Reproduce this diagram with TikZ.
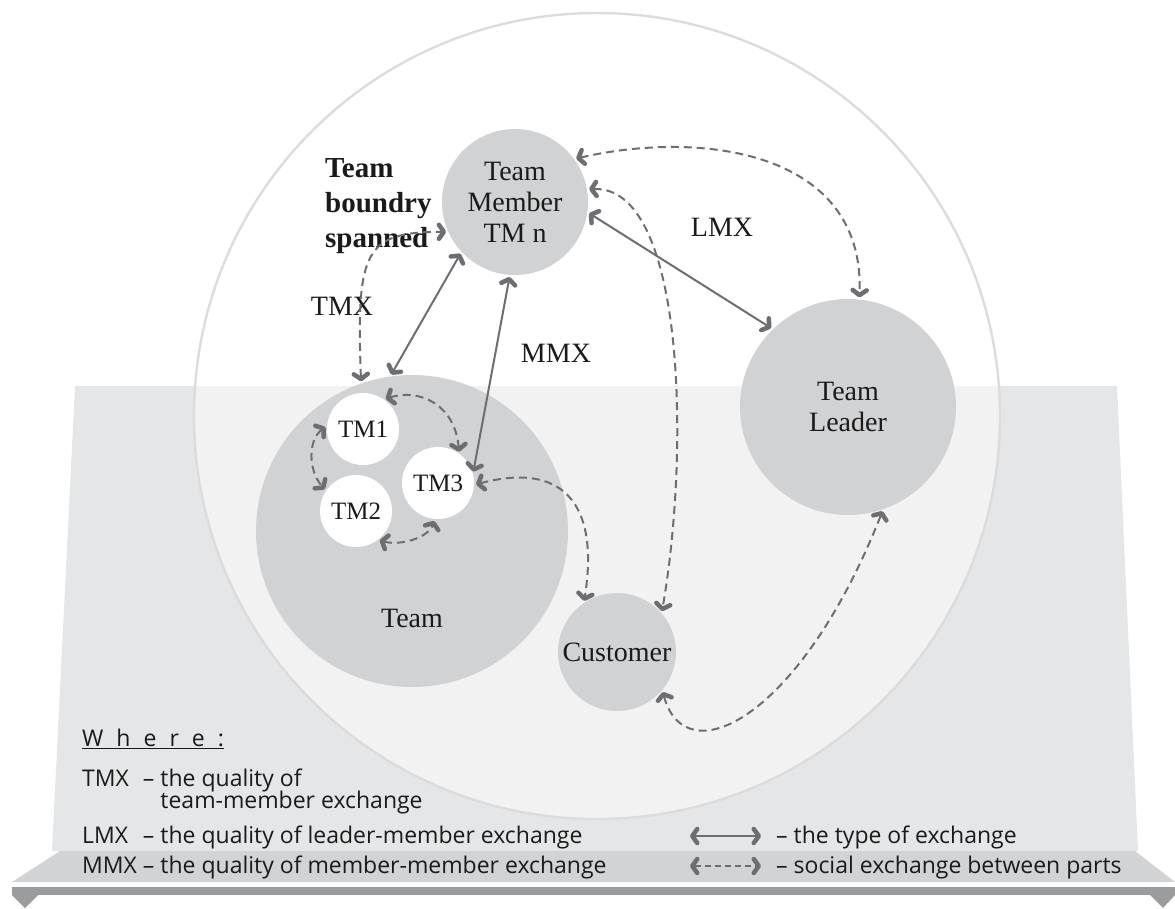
\documentclass[tikz,border=0pt]{standalone}
\usepackage{fontspec}
\setmainfont{Liberation Serif}
\newfontfamily\legfont{Open Sans}
\usetikzlibrary{arrows.meta}
\definecolor{ndgray}{HTML}{D1D2D4}
\definecolor{platgray}{HTML}{E5E6E7}
\definecolor{bandgray}{HTML}{D2D3D5}
\definecolor{bargray}{HTML}{9B9C9E}
\definecolor{arrgray}{HTML}{6D6E71}
\definecolor{ringgray}{HTML}{DCDCDD}
\definecolor{txtblack}{HTML}{1A1A1A}
\newcommand\nodefs{\fontsize{28}{31}\selectfont}
\newcommand\tmfs{\fontsize{25}{28}\selectfont}
\newcommand\lblfs{\fontsize{28}{30}\selectfont}
\newcommand\legfs{\legfont\fontsize{23}{26}\selectfont}
\tikzset{
  nd/.style={circle, fill=ndgray, inner sep=0pt, align=center, text=txtblack, font=\nodefs},
  wn/.style={circle, fill=white, inner sep=0pt, text=txtblack, font=\tmfs},
  lbl/.style={inner sep=0pt, text=txtblack, font=\lblfs},
  bld/.style={inner sep=0pt, text=txtblack, font=\bfseries\fontsize{29}{35}\selectfont},
  leg/.style={inner sep=0pt, text=txtblack, font=\legfs},
  conn/.style={draw=arrgray, line width=2pt,
    arrows={Straight Barb[length=5pt,width=14pt,line width=4.5pt,round]-Straight Barb[length=5pt,width=14pt,line width=4.5pt,round]},
    shorten <=2pt, shorten >=2pt},
  dconn/.style={conn, dash pattern=on 8pt off 5pt},
}
\begin{document}
\begin{tikzpicture}[x=1pt,y=-1pt]
\useasboundingbox (0,0) rectangle (1175,908);
% platform
\fill[platgray] (75,386) -- (1117,386) -- (1138,851) -- (52,851) -- cycle;
\fill[bandgray] (60,851) -- (1135,851) -- (1175,882) -- (12,882) -- cycle;
\fill[bargray] (12,887) rectangle (1175,895);
\fill[bargray] (12,895) -- (38,895) -- (25,908) -- cycle;
\fill[bargray] (1150,895) -- (1175,895) -- (1163,908) -- cycle;
% big ring
\node[circle, minimum size=806pt, inner sep=0pt, fill=white, fill opacity=0.5,
      draw=ringgray, draw opacity=1, line width=2.4pt] (ring) at (597,416) {};
% nodes
\node[nd, minimum size=146pt] (tmn) at (515,202) {Team\\Member\\TM n};
\node[nd, minimum size=312pt] (team) at (412,531) {};
\node[lbl, font=\nodefs] (teamtxt) at (412,618) {Team};
\node[wn, minimum size=72pt] (tm1) at (363,429) {TM1};
\node[wn, minimum size=72pt] (tm2) at (356,511) {TM2};
\node[wn, minimum size=72pt] (tm3) at (438,483) {TM3};
\node[nd, minimum size=216pt] (lead) at (848,407) {Team\\Leader};
\node[nd, minimum size=118pt, font=\fontsize{28}{30}\selectfont] (cust) at (617,652) {Customer};
% labels
\node[lbl, anchor=base] (tmx) at (342,315) {TMX};
\node[lbl, anchor=base] (lmx) at (722,236) {LMX};
\node[lbl, anchor=base] (mmx) at (556,362) {MMX};
\node[bld, anchor=base west] (tbs1) at (325,177) {Team};
\node[bld, anchor=base west] (tbs2) at (325,212) {boundry};
\node[bld, anchor=base west] (tbs3) at (325,247) {spanned};
% solid connectors
\draw[conn] (team.98) -- (tmn.223);
\draw[conn] (tm3.15) -- (tmn.266);
\draw[conn] (tmn.352) -- (lead.134);
% dashed connectors
\draw[dconn] (tmn.36) .. controls (700,130) and (865,150) .. (lead.84);
\draw[dconn] (tmn.10) .. controls (685,185) and (690,450) .. (cust.41);
\draw[dconn] (team.109) .. controls (356,250) and (365,232) .. (tmn.204);
\draw[dconn] (tm1.55) .. controls (420,388) and (455,405) .. (tm3.54);
\draw[dconn] (tm1.175) .. controls (308,440) and (308,470) .. (tm2.146);
\draw[dconn] (tm2.307) .. controls (400,546) and (428,538) .. (tm3.265);
\draw[dconn] (tm3.357) .. controls (560,462) and (600,500) .. (cust.124);
\draw[dconn] (cust.320) .. controls (685,775) and (800,720) .. (lead.289);
% legend
\node[leg, anchor=base west] (where) at (82,746) {\underline{W\hspace{13pt}h\hspace{13pt}e\hspace{13pt}r\hspace{13pt}e\hspace{13pt}:}};
\node[leg, anchor=base west] (k1) at (82,786) {TMX};
\node[leg, anchor=base west] (d1) at (82,786) {\phantom{MMX }– the quality of};
\node[leg, anchor=base west] (d1b) at (82,808) {\phantom{MMX – }team-member exchange};
\node[leg, anchor=base west] (k2) at (82,843) {LMX};
\node[leg, anchor=base west] (d2) at (82,843) {\phantom{MMX }– the quality of leader-member exchange};
\node[leg, anchor=base west] (d3) at (82,873) {MMX – the quality of member-member exchange};
\coordinate (sa1) at (688,836);
\coordinate (sa2) at (763,836);
\draw[conn, line width=1.6pt] (sa1) -- (sa2);
\node[leg, anchor=base west] (e1) at (776,843) {– the type of exchange};
\coordinate (da1) at (688,866);
\coordinate (da2) at (763,866);
\draw[conn, line width=1.6pt, dash pattern=on 6pt off 4pt] (da1) -- (da2);
\node[leg, anchor=base west] (e2) at (776,873) {– social exchange between parts};
\end{tikzpicture}
\end{document}
